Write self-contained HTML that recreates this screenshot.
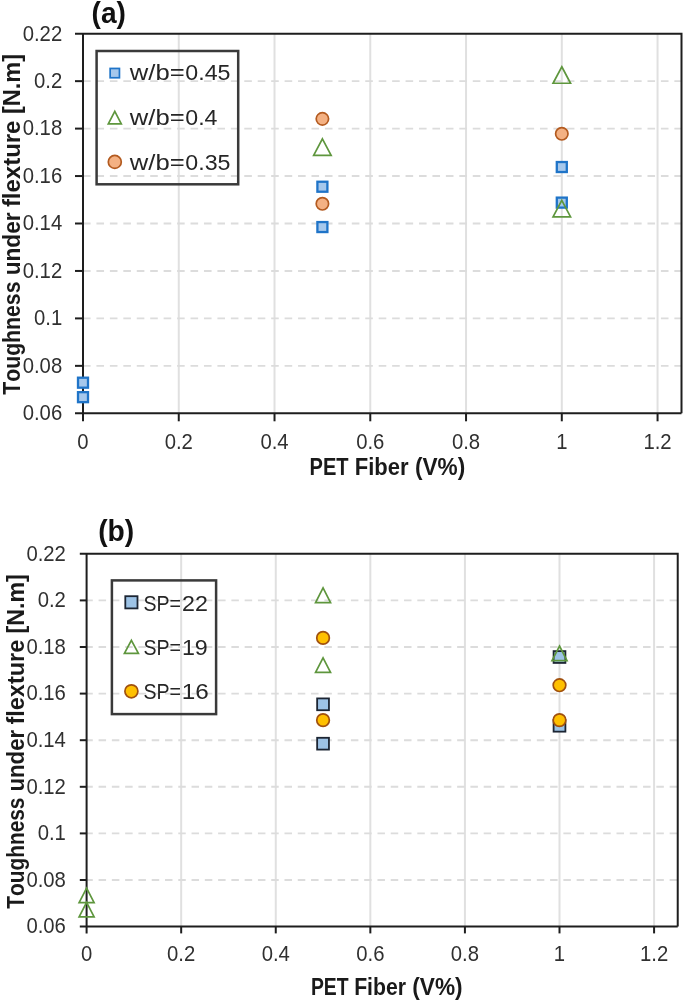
<!DOCTYPE html>
<html><head><meta charset="utf-8"><title>Toughness under flexture charts</title>
<style>
html,body{margin:0;padding:0;background:#fff;}
body{width:685px;height:1002px;overflow:hidden;}
svg{display:block;filter:blur(0.4px);font-family:"Liberation Sans", sans-serif;font-kerning:none;font-variant-ligatures:none;}
</style></head>
<body>
<svg width="685" height="1002" viewBox="0 0 685 1002">
<rect width="685" height="1002" fill="#fff"/>
<g id="chart-a">
<line x1="178.76" y1="33.70" x2="178.76" y2="413.30" stroke="#e0e0e0" stroke-width="2.0"/>
<line x1="274.52" y1="33.70" x2="274.52" y2="413.30" stroke="#e0e0e0" stroke-width="2.0"/>
<line x1="370.28" y1="33.70" x2="370.28" y2="413.30" stroke="#e0e0e0" stroke-width="2.0"/>
<line x1="466.04" y1="33.70" x2="466.04" y2="413.30" stroke="#e0e0e0" stroke-width="2.0"/>
<line x1="561.80" y1="33.70" x2="561.80" y2="413.30" stroke="#e0e0e0" stroke-width="2.0"/>
<line x1="657.56" y1="33.70" x2="657.56" y2="413.30" stroke="#e0e0e0" stroke-width="2.0"/>
<line x1="83.00" y1="365.85" x2="681.50" y2="365.85" stroke="#dcdcdc" stroke-width="1.9" stroke-dasharray="7.6 5.84" stroke-dashoffset="0"/>
<line x1="83.00" y1="318.40" x2="681.50" y2="318.40" stroke="#dcdcdc" stroke-width="1.9" stroke-dasharray="7.6 5.84" stroke-dashoffset="0"/>
<line x1="83.00" y1="270.95" x2="681.50" y2="270.95" stroke="#dcdcdc" stroke-width="1.9" stroke-dasharray="7.6 5.84" stroke-dashoffset="0"/>
<line x1="83.00" y1="223.50" x2="681.50" y2="223.50" stroke="#dcdcdc" stroke-width="1.9" stroke-dasharray="7.6 5.84" stroke-dashoffset="0"/>
<line x1="83.00" y1="176.05" x2="681.50" y2="176.05" stroke="#dcdcdc" stroke-width="1.9" stroke-dasharray="7.6 5.84" stroke-dashoffset="0"/>
<line x1="83.00" y1="128.60" x2="681.50" y2="128.60" stroke="#dcdcdc" stroke-width="1.9" stroke-dasharray="7.6 5.84" stroke-dashoffset="0"/>
<line x1="83.00" y1="81.15" x2="681.50" y2="81.15" stroke="#dcdcdc" stroke-width="1.9" stroke-dasharray="7.6 5.84" stroke-dashoffset="0"/>
<polyline points="75.00,33.70 681.50,33.70 681.50,413.30" fill="none" stroke="#1e1e1e" stroke-width="2"/>
<line x1="83.00" y1="33.70" x2="83.00" y2="421.30" stroke="#1e1e1e" stroke-width="2"/>
<line x1="75.00" y1="413.30" x2="681.50" y2="413.30" stroke="#1e1e1e" stroke-width="2"/>
<line x1="75.00" y1="365.85" x2="83.00" y2="365.85" stroke="#1e1e1e" stroke-width="2"/>
<line x1="75.00" y1="318.40" x2="83.00" y2="318.40" stroke="#1e1e1e" stroke-width="2"/>
<line x1="75.00" y1="270.95" x2="83.00" y2="270.95" stroke="#1e1e1e" stroke-width="2"/>
<line x1="75.00" y1="223.50" x2="83.00" y2="223.50" stroke="#1e1e1e" stroke-width="2"/>
<line x1="75.00" y1="176.05" x2="83.00" y2="176.05" stroke="#1e1e1e" stroke-width="2"/>
<line x1="75.00" y1="128.60" x2="83.00" y2="128.60" stroke="#1e1e1e" stroke-width="2"/>
<line x1="75.00" y1="81.15" x2="83.00" y2="81.15" stroke="#1e1e1e" stroke-width="2"/>
<line x1="178.76" y1="413.30" x2="178.76" y2="421.30" stroke="#1e1e1e" stroke-width="2"/>
<line x1="274.52" y1="413.30" x2="274.52" y2="421.30" stroke="#1e1e1e" stroke-width="2"/>
<line x1="370.28" y1="413.30" x2="370.28" y2="421.30" stroke="#1e1e1e" stroke-width="2"/>
<line x1="466.04" y1="413.30" x2="466.04" y2="421.30" stroke="#1e1e1e" stroke-width="2"/>
<line x1="561.80" y1="413.30" x2="561.80" y2="421.30" stroke="#1e1e1e" stroke-width="2"/>
<line x1="657.56" y1="413.30" x2="657.56" y2="421.30" stroke="#1e1e1e" stroke-width="2"/>
<text x="22.69" y="420.10" font-size="21.2" fill="#303030" textLength="39.51" lengthAdjust="spacingAndGlyphs">0.06</text>
<text x="22.69" y="372.65" font-size="21.2" fill="#303030" textLength="39.51" lengthAdjust="spacingAndGlyphs">0.08</text>
<text x="33.98" y="325.20" font-size="21.2" fill="#303030" textLength="28.22" lengthAdjust="spacingAndGlyphs">0.1</text>
<text x="22.69" y="277.75" font-size="21.2" fill="#303030" textLength="39.51" lengthAdjust="spacingAndGlyphs">0.12</text>
<text x="22.69" y="230.30" font-size="21.2" fill="#303030" textLength="39.51" lengthAdjust="spacingAndGlyphs">0.14</text>
<text x="22.69" y="182.85" font-size="21.2" fill="#303030" textLength="39.51" lengthAdjust="spacingAndGlyphs">0.16</text>
<text x="22.69" y="135.40" font-size="21.2" fill="#303030" textLength="39.51" lengthAdjust="spacingAndGlyphs">0.18</text>
<text x="33.98" y="87.95" font-size="21.2" fill="#303030" textLength="28.22" lengthAdjust="spacingAndGlyphs">0.2</text>
<text x="22.69" y="40.50" font-size="21.2" fill="#303030" textLength="39.51" lengthAdjust="spacingAndGlyphs">0.22</text>
<text x="77.36" y="449.00" font-size="21.2" fill="#303030" textLength="11.29" lengthAdjust="spacingAndGlyphs">0</text>
<text x="164.65" y="449.00" font-size="21.2" fill="#303030" textLength="28.22" lengthAdjust="spacingAndGlyphs">0.2</text>
<text x="260.41" y="449.00" font-size="21.2" fill="#303030" textLength="28.22" lengthAdjust="spacingAndGlyphs">0.4</text>
<text x="356.17" y="449.00" font-size="21.2" fill="#303030" textLength="28.22" lengthAdjust="spacingAndGlyphs">0.6</text>
<text x="451.93" y="449.00" font-size="21.2" fill="#303030" textLength="28.22" lengthAdjust="spacingAndGlyphs">0.8</text>
<text x="556.16" y="449.00" font-size="21.2" fill="#303030" textLength="11.29" lengthAdjust="spacingAndGlyphs">1</text>
<text x="643.45" y="449.00" font-size="21.2" fill="#303030" textLength="28.22" lengthAdjust="spacingAndGlyphs">1.2</text>
<text x="309.56" y="474.80" font-size="24" font-weight="bold" fill="#1a1a1a" textLength="39.06" lengthAdjust="spacingAndGlyphs">PET</text>
<text x="354.73" y="474.80" font-size="24" font-weight="bold" fill="#1a1a1a" textLength="53.81" lengthAdjust="spacingAndGlyphs">Fiber</text>
<text x="414.97" y="474.80" font-size="24" font-weight="bold" fill="#1a1a1a" textLength="50.25" lengthAdjust="spacingAndGlyphs">(V%)</text>
<text transform="rotate(-90)" x="-394.74" y="19.80" font-size="24" font-weight="bold" fill="#1a1a1a" textLength="113.21" lengthAdjust="spacingAndGlyphs">Toughness</text>
<text transform="rotate(-90)" x="-275.30" y="19.80" font-size="24" font-weight="bold" fill="#1a1a1a" textLength="62.85" lengthAdjust="spacingAndGlyphs">under</text>
<text transform="rotate(-90)" x="-207.11" y="19.80" font-size="24" font-weight="bold" fill="#1a1a1a" textLength="86.53" lengthAdjust="spacingAndGlyphs">flexture</text>
<text transform="rotate(-90)" x="-114.12" y="19.80" font-size="24" font-weight="bold" fill="#1a1a1a" textLength="60.14" lengthAdjust="spacingAndGlyphs">[N.m]</text>
<text x="91.60" y="23.30" font-size="29" font-weight="bold" fill="#111" textLength="34.40" lengthAdjust="spacingAndGlyphs">(a)</text>
<rect x="96.60" y="51.00" width="141.60" height="133.30" fill="none" stroke="#3a3a3a" stroke-width="2.5"/>
<rect x="110.15" y="68.45" width="9.30" height="9.30" fill="#a6c8ec" stroke="#1f74c8" stroke-width="1.7"/>
<text x="129.84" y="80.30" font-size="22.3" fill="#262626" textLength="54.83" lengthAdjust="spacingAndGlyphs">w/b=</text>
<text x="185.29" y="80.30" font-size="22.3" fill="#262626" textLength="45.18" lengthAdjust="spacingAndGlyphs">0.45</text>
<polygon points="114.80,111.35 121.30,123.85 108.30,123.85" fill="none" stroke="#5e963d" stroke-width="1.7"/>
<text x="129.84" y="125.30" font-size="22.3" fill="#262626" textLength="54.83" lengthAdjust="spacingAndGlyphs">w/b=</text>
<text x="185.30" y="125.30" font-size="22.3" fill="#262626" textLength="32.18" lengthAdjust="spacingAndGlyphs">0.4</text>
<circle cx="114.80" cy="161.90" r="6.50" fill="#f4b183" stroke="#b35a1f" stroke-width="1.7"/>
<text x="129.84" y="170.00" font-size="22.3" fill="#262626" textLength="54.83" lengthAdjust="spacingAndGlyphs">w/b=</text>
<text x="185.29" y="170.00" font-size="22.3" fill="#262626" textLength="45.18" lengthAdjust="spacingAndGlyphs">0.35</text>
<rect x="78.00" y="377.69" width="10.00" height="10.00" fill="#a6c8ec" stroke="#1f74c8" stroke-width="2.3"/>
<rect x="78.00" y="392.17" width="10.00" height="10.00" fill="#a6c8ec" stroke="#1f74c8" stroke-width="2.3"/>
<rect x="317.40" y="181.73" width="10.00" height="10.00" fill="#a6c8ec" stroke="#1f74c8" stroke-width="2.3"/>
<rect x="317.40" y="222.06" width="10.00" height="10.00" fill="#a6c8ec" stroke="#1f74c8" stroke-width="2.3"/>
<rect x="556.80" y="162.03" width="10.00" height="10.00" fill="#a6c8ec" stroke="#1f74c8" stroke-width="2.3"/>
<rect x="556.80" y="197.62" width="10.00" height="10.00" fill="#a6c8ec" stroke="#1f74c8" stroke-width="2.3"/>
<polygon points="322.40,138.86 331.15,155.36 313.65,155.36" fill="none" stroke="#5e963d" stroke-width="1.7"/>
<polygon points="561.80,66.73 570.55,83.23 553.05,83.23" fill="none" stroke="#5e963d" stroke-width="1.7"/>
<polygon points="561.80,200.30 570.55,216.80 553.05,216.80" fill="none" stroke="#5e963d" stroke-width="1.7"/>
<circle cx="322.40" cy="118.87" r="6.20" fill="#f4b183" stroke="#b35a1f" stroke-width="1.7"/>
<circle cx="322.40" cy="203.81" r="6.20" fill="#f4b183" stroke="#b35a1f" stroke-width="1.7"/>
<circle cx="561.80" cy="133.82" r="6.20" fill="#f4b183" stroke="#b35a1f" stroke-width="1.7"/>
</g>
<g id="chart-b">
<line x1="181.18" y1="553.80" x2="181.18" y2="926.60" stroke="#e0e0e0" stroke-width="2.0"/>
<line x1="275.76" y1="553.80" x2="275.76" y2="926.60" stroke="#e0e0e0" stroke-width="2.0"/>
<line x1="370.34" y1="553.80" x2="370.34" y2="926.60" stroke="#e0e0e0" stroke-width="2.0"/>
<line x1="464.92" y1="553.80" x2="464.92" y2="926.60" stroke="#e0e0e0" stroke-width="2.0"/>
<line x1="559.50" y1="553.80" x2="559.50" y2="926.60" stroke="#e0e0e0" stroke-width="2.0"/>
<line x1="654.08" y1="553.80" x2="654.08" y2="926.60" stroke="#e0e0e0" stroke-width="2.0"/>
<line x1="86.60" y1="880.00" x2="677.73" y2="880.00" stroke="#dcdcdc" stroke-width="1.9" stroke-dasharray="7.5 5.78" stroke-dashoffset="1.3"/>
<line x1="86.60" y1="833.40" x2="677.73" y2="833.40" stroke="#dcdcdc" stroke-width="1.9" stroke-dasharray="7.5 5.78" stroke-dashoffset="1.3"/>
<line x1="86.60" y1="786.80" x2="677.73" y2="786.80" stroke="#dcdcdc" stroke-width="1.9" stroke-dasharray="7.5 5.78" stroke-dashoffset="1.3"/>
<line x1="86.60" y1="740.20" x2="677.73" y2="740.20" stroke="#dcdcdc" stroke-width="1.9" stroke-dasharray="7.5 5.78" stroke-dashoffset="1.3"/>
<line x1="86.60" y1="693.60" x2="677.73" y2="693.60" stroke="#dcdcdc" stroke-width="1.9" stroke-dasharray="7.5 5.78" stroke-dashoffset="1.3"/>
<line x1="86.60" y1="647.00" x2="677.73" y2="647.00" stroke="#dcdcdc" stroke-width="1.9" stroke-dasharray="7.5 5.78" stroke-dashoffset="1.3"/>
<line x1="86.60" y1="600.40" x2="677.73" y2="600.40" stroke="#dcdcdc" stroke-width="1.9" stroke-dasharray="7.5 5.78" stroke-dashoffset="1.3"/>
<polyline points="79.80,553.80 677.73,553.80 677.73,926.60" fill="none" stroke="#1e1e1e" stroke-width="2"/>
<line x1="86.60" y1="553.80" x2="86.60" y2="933.40" stroke="#1e1e1e" stroke-width="2"/>
<line x1="79.80" y1="926.60" x2="677.73" y2="926.60" stroke="#1e1e1e" stroke-width="2"/>
<line x1="79.80" y1="880.00" x2="86.60" y2="880.00" stroke="#1e1e1e" stroke-width="2"/>
<line x1="79.80" y1="833.40" x2="86.60" y2="833.40" stroke="#1e1e1e" stroke-width="2"/>
<line x1="79.80" y1="786.80" x2="86.60" y2="786.80" stroke="#1e1e1e" stroke-width="2"/>
<line x1="79.80" y1="740.20" x2="86.60" y2="740.20" stroke="#1e1e1e" stroke-width="2"/>
<line x1="79.80" y1="693.60" x2="86.60" y2="693.60" stroke="#1e1e1e" stroke-width="2"/>
<line x1="79.80" y1="647.00" x2="86.60" y2="647.00" stroke="#1e1e1e" stroke-width="2"/>
<line x1="79.80" y1="600.40" x2="86.60" y2="600.40" stroke="#1e1e1e" stroke-width="2"/>
<line x1="181.18" y1="926.60" x2="181.18" y2="933.40" stroke="#1e1e1e" stroke-width="2"/>
<line x1="275.76" y1="926.60" x2="275.76" y2="933.40" stroke="#1e1e1e" stroke-width="2"/>
<line x1="370.34" y1="926.60" x2="370.34" y2="933.40" stroke="#1e1e1e" stroke-width="2"/>
<line x1="464.92" y1="926.60" x2="464.92" y2="933.40" stroke="#1e1e1e" stroke-width="2"/>
<line x1="559.50" y1="926.60" x2="559.50" y2="933.40" stroke="#1e1e1e" stroke-width="2"/>
<line x1="654.08" y1="926.60" x2="654.08" y2="933.40" stroke="#1e1e1e" stroke-width="2"/>
<text x="26.39" y="933.40" font-size="21.2" fill="#303030" textLength="39.51" lengthAdjust="spacingAndGlyphs">0.06</text>
<text x="26.39" y="886.80" font-size="21.2" fill="#303030" textLength="39.51" lengthAdjust="spacingAndGlyphs">0.08</text>
<text x="37.68" y="840.20" font-size="21.2" fill="#303030" textLength="28.22" lengthAdjust="spacingAndGlyphs">0.1</text>
<text x="26.39" y="793.60" font-size="21.2" fill="#303030" textLength="39.51" lengthAdjust="spacingAndGlyphs">0.12</text>
<text x="26.39" y="747.00" font-size="21.2" fill="#303030" textLength="39.51" lengthAdjust="spacingAndGlyphs">0.14</text>
<text x="26.39" y="700.40" font-size="21.2" fill="#303030" textLength="39.51" lengthAdjust="spacingAndGlyphs">0.16</text>
<text x="26.39" y="653.80" font-size="21.2" fill="#303030" textLength="39.51" lengthAdjust="spacingAndGlyphs">0.18</text>
<text x="37.68" y="607.20" font-size="21.2" fill="#303030" textLength="28.22" lengthAdjust="spacingAndGlyphs">0.2</text>
<text x="26.39" y="560.60" font-size="21.2" fill="#303030" textLength="39.51" lengthAdjust="spacingAndGlyphs">0.22</text>
<text x="80.96" y="961.30" font-size="21.2" fill="#303030" textLength="11.29" lengthAdjust="spacingAndGlyphs">0</text>
<text x="167.07" y="961.30" font-size="21.2" fill="#303030" textLength="28.22" lengthAdjust="spacingAndGlyphs">0.2</text>
<text x="261.65" y="961.30" font-size="21.2" fill="#303030" textLength="28.22" lengthAdjust="spacingAndGlyphs">0.4</text>
<text x="356.23" y="961.30" font-size="21.2" fill="#303030" textLength="28.22" lengthAdjust="spacingAndGlyphs">0.6</text>
<text x="450.81" y="961.30" font-size="21.2" fill="#303030" textLength="28.22" lengthAdjust="spacingAndGlyphs">0.8</text>
<text x="553.86" y="961.30" font-size="21.2" fill="#303030" textLength="11.29" lengthAdjust="spacingAndGlyphs">1</text>
<text x="639.97" y="961.30" font-size="21.2" fill="#303030" textLength="28.22" lengthAdjust="spacingAndGlyphs">1.2</text>
<text x="310.90" y="994.80" font-size="24" font-weight="bold" fill="#1a1a1a" textLength="37.71" lengthAdjust="spacingAndGlyphs">PET</text>
<text x="354.18" y="994.80" font-size="24" font-weight="bold" fill="#1a1a1a" textLength="51.84" lengthAdjust="spacingAndGlyphs">Fiber</text>
<text x="412.27" y="994.80" font-size="24" font-weight="bold" fill="#1a1a1a" textLength="50.36" lengthAdjust="spacingAndGlyphs">(V%)</text>
<text transform="rotate(-90)" x="-908.83" y="23.60" font-size="24" font-weight="bold" fill="#1a1a1a" textLength="111.29" lengthAdjust="spacingAndGlyphs">Toughness</text>
<text transform="rotate(-90)" x="-791.58" y="23.60" font-size="24" font-weight="bold" fill="#1a1a1a" textLength="61.82" lengthAdjust="spacingAndGlyphs">under</text>
<text transform="rotate(-90)" x="-724.50" y="23.60" font-size="24" font-weight="bold" fill="#1a1a1a" textLength="84.70" lengthAdjust="spacingAndGlyphs">flexture</text>
<text transform="rotate(-90)" x="-633.50" y="23.60" font-size="24" font-weight="bold" fill="#1a1a1a" textLength="59.20" lengthAdjust="spacingAndGlyphs">[N.m]</text>
<text x="98.20" y="541.40" font-size="29" font-weight="bold" fill="#111" textLength="36.01" lengthAdjust="spacingAndGlyphs">(b)</text>
<rect x="111.90" y="580.40" width="104.20" height="133.70" fill="none" stroke="#3a3a3a" stroke-width="2.5"/>
<rect x="125.30" y="596.20" width="12.20" height="12.20" fill="#9dc3e6" stroke="#1c2533" stroke-width="1.8"/>
<text x="143.51" y="610.90" font-size="22.8" fill="#262626" textLength="37.55" lengthAdjust="spacingAndGlyphs">SP=</text>
<text x="182.03" y="610.90" font-size="22.8" fill="#262626" textLength="25.84" lengthAdjust="spacingAndGlyphs">22</text>
<polygon points="131.40,640.40 138.40,653.40 124.40,653.40" fill="none" stroke="#5e963d" stroke-width="1.7"/>
<text x="143.51" y="654.60" font-size="22.8" fill="#262626" textLength="37.55" lengthAdjust="spacingAndGlyphs">SP=</text>
<text x="181.93" y="654.60" font-size="22.8" fill="#262626" textLength="25.87" lengthAdjust="spacingAndGlyphs">19</text>
<circle cx="131.40" cy="691.30" r="6.50" fill="#ffc000" stroke="#a0500f" stroke-width="1.7"/>
<text x="143.51" y="699.10" font-size="22.8" fill="#262626" textLength="37.55" lengthAdjust="spacingAndGlyphs">SP=</text>
<text x="181.85" y="699.10" font-size="22.8" fill="#262626" textLength="27.02" lengthAdjust="spacingAndGlyphs">16</text>
<rect x="317.15" y="698.42" width="11.80" height="11.80" fill="#9dc3e6" stroke="#1c2533" stroke-width="1.8"/>
<rect x="317.15" y="737.79" width="11.80" height="11.80" fill="#9dc3e6" stroke="#1c2533" stroke-width="1.8"/>
<rect x="553.60" y="651.12" width="11.80" height="11.80" fill="#9dc3e6" stroke="#1c2533" stroke-width="1.8"/>
<rect x="553.60" y="719.85" width="11.80" height="11.80" fill="#9dc3e6" stroke="#1c2533" stroke-width="1.8"/>
<polygon points="86.60,888.08 94.10,902.68 79.10,902.68" fill="none" stroke="#5e963d" stroke-width="1.7"/>
<polygon points="86.60,902.29 94.10,916.89 79.10,916.89" fill="none" stroke="#5e963d" stroke-width="1.7"/>
<polygon points="323.05,587.97 330.55,602.57 315.55,602.57" fill="none" stroke="#5e963d" stroke-width="1.7"/>
<polygon points="323.05,657.87 330.55,672.47 315.55,672.47" fill="none" stroke="#5e963d" stroke-width="1.7"/>
<polygon points="559.50,645.99 567.00,660.59 552.00,660.59" fill="none" stroke="#5e963d" stroke-width="1.7"/>
<circle cx="323.05" cy="637.91" r="6.30" fill="#ffc000" stroke="#a0500f" stroke-width="1.7"/>
<circle cx="323.05" cy="720.16" r="6.30" fill="#ffc000" stroke="#a0500f" stroke-width="1.7"/>
<circle cx="559.50" cy="685.21" r="6.30" fill="#ffc000" stroke="#a0500f" stroke-width="1.7"/>
<circle cx="559.50" cy="720.16" r="6.30" fill="#ffc000" stroke="#a0500f" stroke-width="1.7"/>
</g>
</svg>
</body></html>
